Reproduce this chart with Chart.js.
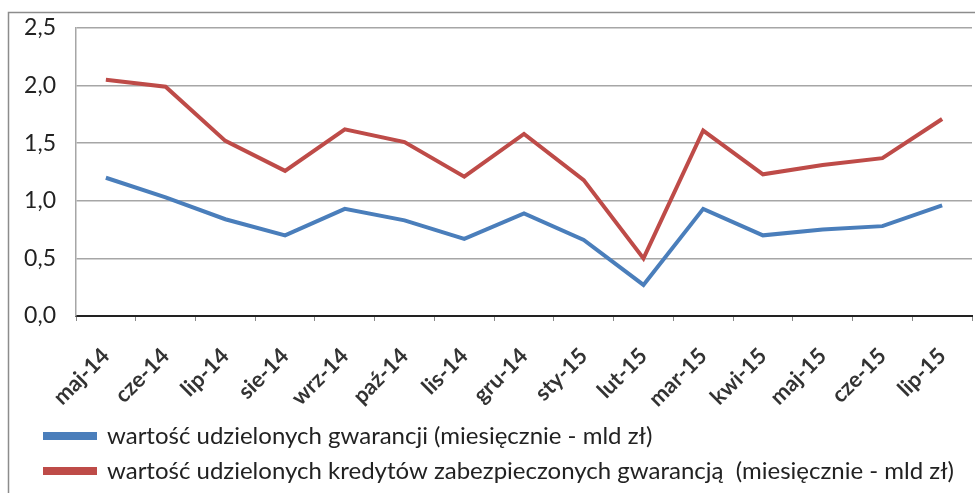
<!DOCTYPE html>
<html>
<head>
<meta charset="utf-8">
<script src="https://cdn.jsdelivr.net/npm/chart.js@4/dist/chart.umd.min.js"></script>
<style>
  html, body { margin: 0; padding: 0; background: #fff; }
  #wrap { position: absolute; left: 0; top: 0; width: 975px; height: 493px; }
</style>
</head>
<body>
<div id="wrap"><canvas id="chart" width="975" height="493"></canvas></div>
<script>
const months = ['maj-14', 'cze-14', 'lip-14', 'sie-14', 'wrz-14', 'paź-14', 'lis-14', 'gru-14',
                'sty-15', 'lut-15', 'mar-15', 'kwi-15', 'maj-15', 'cze-15', 'lip-15'];
const guarantees = [1.20, 1.03, 0.84, 0.70, 0.93, 0.83, 0.67, 0.89, 0.66, 0.27, 0.93, 0.70, 0.75, 0.78, 0.96];
const securedLoans = [2.05, 1.99, 1.52, 1.26, 1.62, 1.51, 1.21, 1.58, 1.18, 0.50, 1.61, 1.23, 1.31, 1.37, 1.71];
const seriesNames = [
    'wartość udzielonych gwarancji (miesięcznie - mld zł)',
    'wartość udzielonych kredytów zabezpieczonych gwarancją  (miesięcznie - mld zł)'
];

// left and top border of the chart object, like in the source sheet
const framePlugin = {
    id: 'frame',
    beforeDraw: (chart) => {
        const { ctx } = chart;
        ctx.save();
        ctx.fillStyle = '#fff';
        ctx.fillRect(0, 0, chart.width, chart.height);
        ctx.strokeStyle = '#8c8c8c';
        ctx.lineWidth = 1.5;
        ctx.beginPath();
        ctx.moveTo(8.5, chart.height);
        ctx.lineTo(8.5, 12.5);
        ctx.lineTo(chart.width, 12.5);
        ctx.stroke();
        ctx.restore();
    }
};

// legend sits indented from the frame, not from the canvas edge
const legendShift = {
    id: 'legendShift',
    afterLayout: (chart) => {
        if (chart.legend) chart.legend.left = 34;
    }
};

const config = {
    type: 'line',
    data: {
        labels: months,
        datasets: [{
            label: seriesNames[0],
            data: guarantees,
            borderColor: '#4a7ebb',
            backgroundColor: '#4a7ebb',
            borderWidth: 4,
            pointRadius: 0,
            tension: 0
        }, {
            label: seriesNames[1],
            data: securedLoans,
            borderColor: '#be4b48',
            backgroundColor: '#be4b48',
            borderWidth: 4,
            pointRadius: 0,
            tension: 0
        }]
    },
    options: {
        responsive: false,
        animation: false,
        layout: { padding: { left: 10, right: 3, top: 28, bottom: 0 } },
        scales: {
            x: {
                offset: true,
                afterFit: (scale) => {
                    scale.height = 97;
                    scale.paddingRight = 0;
                    scale.paddingLeft = 0;
                },
                grid: {
                    offset: true,
                    display: true,
                    drawOnChartArea: false,
                    drawTicks: true,
                    tickLength: 5,
                    color: '#888'
                },
                border: { color: '#222', width: 2 },
                ticks: {
                    minRotation: 45,
                    maxRotation: 45,
                    color: '#333',
                    padding: 22,
                    font: { family: 'Lato', size: 22, weight: 'bold' }
                }
            },
            y: {
                min: 0,
                max: 2.5,
                afterFit: (scale) => {
                    scale.width = 66;
                    scale.paddingTop = 0;
                    scale.paddingBottom = 0;
                },
                grid: { color: '#a6a6a6', lineWidth: 1.5, drawTicks: false },
                border: { color: '#a6a6a6', width: 1.5 },
                ticks: {
                    stepSize: 0.5,
                    padding: 20,
                    color: '#222',
                    font: { family: 'Lato', size: 23 },
                    callback: (v) => v.toFixed(1).replace('.', ',')
                }
            }
        },
        plugins: {
            legend: {
                position: 'bottom',
                align: 'start',
                labels: {
                    boxWidth: 50,
                    boxHeight: 4,
                    padding: 11,
                    color: '#222',
                    font: { family: 'Lato', size: 24 }
                }
            },
            tooltip: { enabled: false }
        }
    },
    plugins: [framePlugin, legendShift]
};

const ctx = document.getElementById('chart').getContext('2d');
new Chart(ctx, config);
</script>
</body>
</html>
